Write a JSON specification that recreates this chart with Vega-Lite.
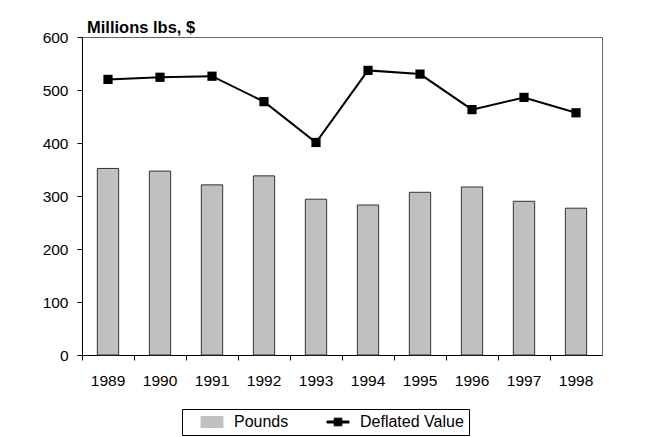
{
  "$schema": "https://vega.github.io/schema/vega-lite/v6.json",
  "width": 520,
  "height": 318,
  "autosize": {"type": "none"},
  "padding": {"left": 82, "top": 37, "right": 44, "bottom": 82},
  "background": "white",
  "title": {"text": "Millions lbs, $", "anchor": "start", "frame": "group", "font": "Liberation Sans", "fontSize": 16.5, "fontWeight": "bold", "color": "black", "baseline": "alphabetic", "offset": 6, "dx": 5, "dy": 25},
  "data": {"values": [
    {"year": "1989", "pounds": 352, "deflated": 520},
    {"year": "1990", "pounds": 347, "deflated": 524},
    {"year": "1991", "pounds": 321, "deflated": 526},
    {"year": "1992", "pounds": 338, "deflated": 478},
    {"year": "1993", "pounds": 294, "deflated": 401},
    {"year": "1994", "pounds": 283, "deflated": 537},
    {"year": "1995", "pounds": 307, "deflated": 530},
    {"year": "1996", "pounds": 317, "deflated": 463},
    {"year": "1997", "pounds": 290, "deflated": 486},
    {"year": "1998", "pounds": 277, "deflated": 457}
  ]},
  "encoding": {
    "x": {"field": "year", "type": "nominal", "sort": null,
      "scale": {"paddingInner": 0, "paddingOuter": 0},
      "axis": {"title": null, "labelAngle": 0, "bandPosition": 0, "tickSize": 5, "labelPadding": 13, "domainColor": "black", "tickColor": "black", "labelColor": "black", "labelFont": "Liberation Sans", "labelFontSize": 15.5}}
  },
  "layer": [
    {
      "mark": {"type": "bar", "width": {"band": 0.41}, "stroke": "#333333", "strokeWidth": 1},
      "encoding": {
        "y": {"field": "pounds", "type": "quantitative",
          "scale": {"domain": [0, 600]},
          "axis": {"title": null, "values": [0, 100, 200, 300, 400, 500, 600], "grid": false, "tickSize": 5, "labelPadding": 9, "domainColor": "black", "tickColor": "black", "labelColor": "black", "labelFont": "Liberation Sans", "labelFontSize": 15.5}},
        "color": {"datum": "Pounds", "type": "nominal",
          "scale": {"domain": ["Pounds", "Deflated Value"], "range": ["#c0c0c0", "#000000"]},
          "legend": {
            "title": null, "orient": "none", "legendX": 100, "legendY": 372, "direction": "horizontal",
            "strokeColor": "black", "padding": 5, "symbolOffset": 17,
            "symbolSize": 121, "labelOffset": 14, "columnPadding": 24,
            "labelFont": "Liberation Sans", "labelFontSize": 16, "labelColor": "black",
            "symbolStrokeColor": "black", "symbolStrokeWidth": 1,
            "encode": {"symbols": {"update": {
              "shape": {"signal": "datum.value === 'Pounds' ? 'M-2,-1H2V1H-2Z' : 'M-2,-0.18H2V0.18H-2ZM-0.7,-0.7H0.7V0.7H-0.7Z'"},
              "fill": {"signal": "datum.value === 'Pounds' ? '#c0c0c0' : '#000000'"},
              "stroke": {"signal": "datum.value === 'Pounds' ? '#333333' : '#000000'"},
              "strokeWidth": {"value": 1},
              "opacity": {"value": 1},
              "fillOpacity": {"value": 1}
            }}}
          }}
      }
    },
    {
      "mark": {"type": "line", "strokeWidth": 2},
      "encoding": {
        "y": {"field": "deflated", "type": "quantitative"},
        "color": {"datum": "Deflated Value", "type": "nominal"}
      }
    },
    {
      "mark": {"type": "point", "shape": "square", "filled": true, "size": 85, "opacity": 1},
      "encoding": {
        "y": {"field": "deflated", "type": "quantitative"},
        "color": {"datum": "Deflated Value", "type": "nominal"}
      }
    }
  ],
  "config": {
    "view": {"stroke": "#666666", "strokeWidth": 1},
    "axis": {"grid": false}
  }
}
